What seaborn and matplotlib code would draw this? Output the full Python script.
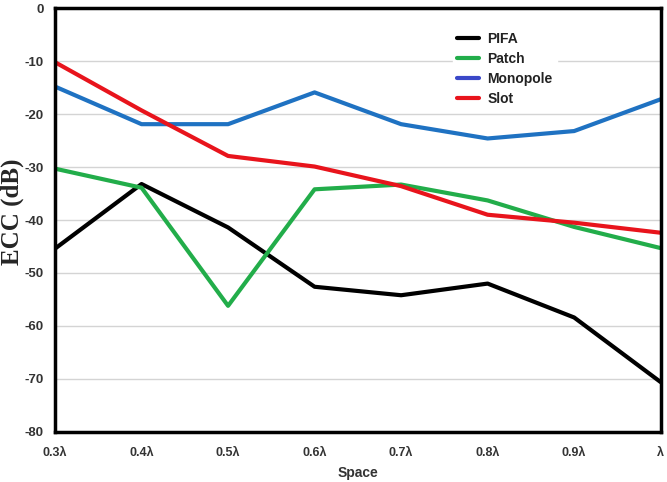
import matplotlib
matplotlib.use("Agg")
import matplotlib.pyplot as plt
import seaborn as sns
import pandas as pd

space = ["0.3λ", "0.4λ", "0.5λ", "0.6λ", "0.7λ", "0.8λ", "0.9λ", "λ"]
pifa = [-45.4, -33.2, -41.4, -52.6, -54.2, -52.0, -58.4, -70.6]
patch = [-30.3, -33.9, -56.2, -34.2, -33.3, -36.3, -41.3, -45.3]
monopole = [-14.8, -21.9, -21.9, -15.9, -21.9, -24.6, -23.2, -17.2]
slot = [-10.2, -19.3, -27.9, -29.9, -33.6, -39.0, -40.5, -42.4]
series_names = ["PIFA", "Patch", "Monopole", "Slot"]
colors = ["#000000", "#22ad4a", "#1f72c2", "#e8141c"]
legend_colors = ["#000000", "#22ad4a", "#3a48c8", "#e8141c"]
yticks = [0, -10, -20, -30, -40, -50, -60, -70, -80]

rows = []
for name, vals in zip(series_names, [pifa, patch, monopole, slot]):
    for s, v in zip(space, vals):
        rows.append({"Space": s, "ECC": v, "Antenna": name})
df = pd.DataFrame(rows)

sns.set_style("white")
plt.rcParams['font.family'] = ['Liberation Sans', 'DejaVu Sans']

fig = plt.figure(figsize=(6.67, 4.82), dpi=100)
ax = fig.add_axes([0.0825, 0.104, 0.908, 0.879])

sns.lineplot(data=df, x="Space", y="ECC", hue="Antenna", hue_order=series_names,
             palette=colors, linewidth=3, ax=ax, sort=False)

ax.set_xlim(0, len(space) - 1)
ax.set_ylim(-80, 0)
ax.set_yticks(yticks)
ax.set_yticklabels([str(t) for t in yticks], fontsize=9.5, fontweight='bold', color='#333333')
ax.set_xticks(range(len(space)))
ax.set_xticklabels(space, fontsize=9, fontweight='bold', color='#333333')
ax.tick_params(axis='y', length=0, pad=8)
ax.tick_params(axis='x', length=0, pad=11)
ax.yaxis.grid(True, color='#d4d4d4', linewidth=1)
ax.xaxis.grid(False)
for sp in ax.spines.values():
    sp.set_visible(True)
    sp.set_color('black')
    sp.set_linewidth(2.5)

ax.set_xlabel("Space", fontsize=10, fontweight='bold', color='#333333', labelpad=5)
ax.set_ylabel("ECC (dB)", fontsize=18, fontweight='bold', family='Liberation Serif')
ax.yaxis.set_label_coords(-0.052, 0.52)

leg = ax.legend(loc='upper left', bbox_to_anchor=(0.645, 0.97), frameon=True,
                fontsize=10, handlelength=1.6, labelspacing=0.42, borderpad=0.3,
                handletextpad=0.6)
leg.get_frame().set_edgecolor('white')
leg.get_frame().set_facecolor('white')
leg.get_frame().set_alpha(1)
for h, c in zip(leg.get_lines(), legend_colors):
    h.set_color(c)
    h.set_linewidth(3)
for t in leg.get_texts():
    t.set_fontweight('bold')
    t.set_color('#222222')

fig.savefig("out.png", dpi=100)
